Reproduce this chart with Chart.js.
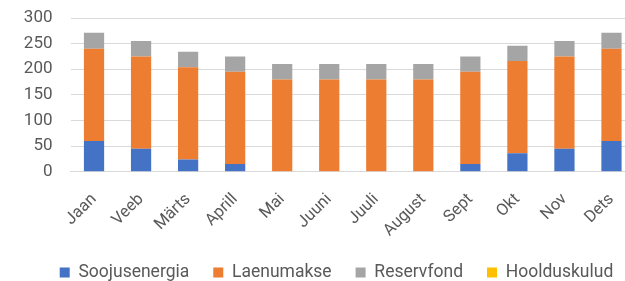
<!DOCTYPE html>
<html>
<head>
<meta charset="utf-8">
<script src="https://cdn.jsdelivr.net/npm/chart.js@4"></script>
<style>
  html, body { margin: 0; padding: 0; background: #fff; overflow: hidden; }
  #wrap { width: 640px; height: 281px; }
</style>
</head>
<body>
<div id="wrap"><canvas id="chart"></canvas></div>
<script>
const months = ['Jaan', 'Veeb', 'Märts', 'Aprill', 'Mai', 'Juuni', 'Juuli', 'August', 'Sept', 'Okt', 'Nov', 'Dets'];
const soojusenergia = [60, 45, 24, 15, 0, 0, 0, 0, 15, 36, 45, 60];
const laenumakse = [180, 180, 180, 180, 180, 180, 180, 180, 180, 180, 180, 180];
const reservfond = [31, 30, 30, 30, 30, 30, 30, 30, 30, 30, 30, 31];
const hoolduskulud = [0, 0, 0, 0, 0, 0, 0, 0, 0, 0, 0, 0];
const yTicks = [0, 50, 100, 150, 200, 250, 300];

const textColor = '#595959';
const fontFamily = 'Roboto, "DejaVu Sans", sans-serif';

// legend: flatter box, and moved right to where it sits in the original
const legendTweak = {
  id: 'legendTweak',
  beforeLayout(chart) {
    const lg = chart.legend;
    if (lg && !lg._tweaked) {
      const fit = lg.fit.bind(lg);
      lg.fit = function () { fit(); this.height = 41.3; };
      lg._tweaked = true;
    }
  },
  afterLayout(chart) {
    chart.legend.left += 19;
    chart.legend.right += 19;
  }
};

new Chart(document.getElementById('chart'), {
  type: 'bar',
  data: {
    labels: months,
    datasets: [
      { label: 'Soojusenergia', data: soojusenergia, backgroundColor: '#4472C4' },
      { label: 'Laenumakse', data: laenumakse, backgroundColor: '#ED7D31' },
      { label: 'Reservfond', data: reservfond, backgroundColor: '#A5A5A5' },
      { label: 'Hoolduskulud', data: hoolduskulud, backgroundColor: '#FFC000' },
    ],
  },
  options: {
    responsive: true,
    maintainAspectRatio: false,
    animation: false,
    layout: { padding: { top: 18, right: 5, left: 0, bottom: 0 } },
    datasets: {
      bar: { barPercentage: 0.43, categoryPercentage: 1.0 },
    },
    scales: {
      x: {
        stacked: true,
        grid: { display: false },
        border: { color: '#d9d9d9', width: 1 },
        ticks: {
          color: textColor,
          font: { family: fontFamily, size: 16.5 },
          minRotation: 45,
          maxRotation: 45,
          autoSkip: false,
          padding: 10,
        },
        afterFit: (scale) => {
          scale.height = 68;
          scale.paddingLeft = 0;
          scale.paddingRight = 0;
        },
      },
      y: {
        stacked: true,
        min: 0,
        max: 300,
        afterBuildTicks: (scale) => { scale.ticks = yTicks.map((v) => ({ value: v })); },
        grid: { color: '#d9d9d9', drawTicks: false },
        border: { display: false },
        ticks: {
          color: textColor,
          font: { family: fontFamily, size: 17 },
          padding: 18,
          autoSkip: false,
        },
        afterFit: (scale) => {
          scale.width = 70.5;
          scale.paddingTop = 0;
          scale.paddingBottom = 0;
        },
      },
    },
    plugins: {
      legend: {
        position: 'bottom',
        labels: {
          color: textColor,
          font: { family: fontFamily, size: 17.5 },
          boxWidth: 10,
          boxHeight: 10,
          padding: 24,
        },
      },
      tooltip: { enabled: false },
    },
  },
  plugins: [legendTweak],
});
</script>
</body>
</html>
